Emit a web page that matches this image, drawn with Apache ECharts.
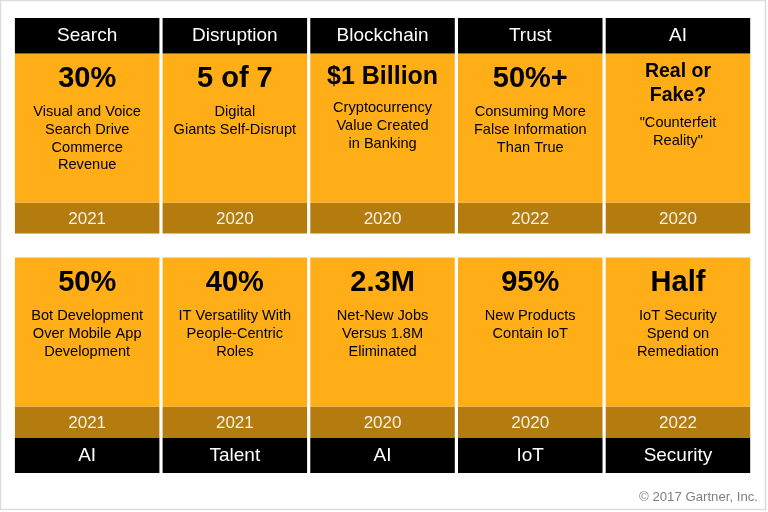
<!DOCTYPE html>
<html>
<head>
<meta charset="utf-8">
<style>html,body{margin:0;padding:0;background:#fff}#chart{width:768px;height:512px}</style>
<script src="https://cdn.jsdelivr.net/npm/echarts@6/dist/echarts.min.js"></script>
</head>
<body>
<div id="chart"></div>
<script>
var topTopics = ["Search", "Disruption", "Blockchain", "Trust", "AI"];
var topStats = ["30%", "5 of 7", "$1 Billion", "50%+", "Real or\nFake?"];
var topDetails = [
  "Visual and Voice\nSearch Drive\nCommerce\nRevenue",
  "Digital\nGiants Self-Disrupt",
  "Cryptocurrency\nValue Created\nin Banking",
  "Consuming More\nFalse Information\nThan True",
  "\"Counterfeit\nReality\""
];
var topYears = ["2021", "2020", "2020", "2022", "2020"];

var bottomTopics = ["AI", "Talent", "AI", "IoT", "Security"];
var bottomStats = ["50%", "40%", "2.3M", "95%", "Half"];
var bottomDetails = [
  "Bot Development\nOver Mobile App\nDevelopment",
  "IT Versatility With\nPeople-Centric\nRoles",
  "Net-New Jobs\nVersus 1.8M\nEliminated",
  "New Products\nContain IoT",
  "IoT Security\nSpend on\nRemediation"
];
var bottomYears = ["2021", "2021", "2020", "2020", "2022"];

var FONT = "Liberation Sans";
var TOPIC_H = 35.5, BODY_H = 149, YEAR_H = 31;
var TOTAL = TOPIC_H + BODY_H + YEAR_H;

// pick the stat style from the text: long ones and two-liners are set smaller
function bodyText(stat, detail) {
  var out = [];
  if (stat.indexOf("\n") >= 0) {
    out.push("{gap5| }");
    stat.split("\n").forEach(function (s) { out.push("{statTiny|" + s + "}"); });
    out.push("{gap7| }");
  } else if (stat.length > 8) {
    out.push("{statSmall|" + stat + "}");
  } else {
    out.push("{stat|" + stat + "}");
  }
  detail.split("\n").forEach(function (s) { out.push("{desc|" + s + "}"); });
  return out.join("\n");
}

var rich = {
  stat: { fontFamily: FONT, fontSize: 29, fontWeight: "bold", color: "#000", lineHeight: 49 },
  statSmall: { fontFamily: FONT, fontSize: 25, fontWeight: "bold", color: "#000", lineHeight: 45 },
  statTiny: { fontFamily: FONT, fontSize: 19.5, fontWeight: "bold", color: "#000", lineHeight: 24 },
  desc: { fontFamily: FONT, fontSize: 14.6, color: "#000", lineHeight: 17.7 },
  gap5: { fontSize: 2, lineHeight: 5 },
  gap7: { fontSize: 2, lineHeight: 7 }
};

function band(gridIdx, h, color, texts, label) {
  return {
    type: "bar",
    xAxisIndex: gridIdx,
    yAxisIndex: gridIdx,
    stack: "card" + gridIdx,
    barWidth: 144.5,
    silent: true,
    itemStyle: { color: color },
    label: label,
    data: texts.map(function (t) { return { value: h, name: t, label: { formatter: t } }; })
  };
}

var topicLabel = { show: true, position: "inside", fontFamily: FONT, fontSize: 19, color: "#fff" };
var lowTopicLabel = { show: true, position: "inside", offset: [0, 1], fontFamily: FONT, fontSize: 19, color: "#fff" };
var yearLabel = { show: true, position: "inside", offset: [0, 1], fontFamily: FONT, fontSize: 17, color: "#f4f0e6" };
var bodyLabel = { show: true, position: "insideTop", distance: 1, align: "center", rich: rich };

function bodies(stats, details) {
  return stats.map(function (s, i) { return bodyText(s, details[i]); });
}

var option = {
  animation: false,
  backgroundColor: "#fff",
  title: {
    text: "© 2017 Gartner, Inc.",
    right: 5,
    top: 486,
    textStyle: { fontFamily: FONT, fontSize: 13.2, fontWeight: "normal", color: "#808080" }
  },
  graphic: [{
    type: "rect",
    shape: { x: 0.5, y: 0.5, width: 765, height: 509 },
    style: { fill: null, stroke: "#dcdcdc", lineWidth: 1.5 },
    silent: true
  }],
  grid: [
    { left: 13.3, width: 738.5, top: 18, height: TOTAL },
    { left: 13.3, width: 738.5, top: 257.5, height: TOTAL }
  ],
  xAxis: [
    { type: "category", gridIndex: 0, show: false, data: topTopics },
    { type: "category", gridIndex: 1, show: false, data: bottomTopics }
  ],
  yAxis: [
    { type: "value", gridIndex: 0, show: false, min: 0, max: TOTAL },
    { type: "value", gridIndex: 1, show: false, min: 0, max: TOTAL }
  ],
  series: [
    band(0, YEAR_H, "#b47b0e", topYears, yearLabel),
    band(0, BODY_H, "#ffae17", bodies(topStats, topDetails), bodyLabel),
    band(0, TOPIC_H, "#000", topTopics, topicLabel),
    band(1, TOPIC_H, "#000", bottomTopics, lowTopicLabel),
    band(1, YEAR_H, "#b47b0e", bottomYears, yearLabel),
    band(1, BODY_H, "#ffae17", bodies(bottomStats, bottomDetails), bodyLabel)
  ]
};

var chart = echarts.init(document.getElementById("chart"), null, { renderer: "canvas" });
chart.setOption(option);
</script>
</body>
</html>
